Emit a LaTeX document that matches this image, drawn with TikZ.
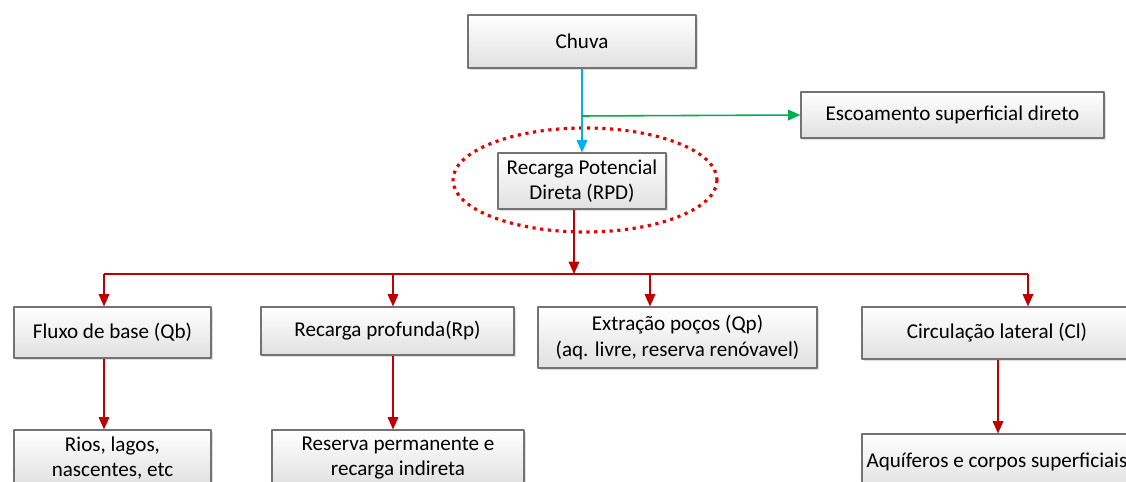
\documentclass[tikz,border=0pt]{standalone}
\usepackage{fontspec}
\setmainfont{Carlito}
\usetikzlibrary{arrows.meta,shadows}
\definecolor{vermelho}{RGB}{192,0,0}
\definecolor{azul}{RGB}{0,176,240}
\definecolor{verde}{RGB}{0,176,80}
\definecolor{elipse}{RGB}{230,0,0}
\begin{document}
\begin{tikzpicture}[line join=round,x=0.02cm,y=-0.02cm,
  >={Triangle[length=7pt,width=6pt]},
  caixa/.style={draw=black!55,line width=0.6pt,top color=white,bottom color=black!12,
    drop shadow={shadow xshift=1.2pt,shadow yshift=-1.2pt,opacity=0.25},
    align=center,inner sep=0pt,font=\fontsize{12}{14.6}\selectfont},
  larg/.style={minimum width=#1*0.02cm},
  alt/.style={minimum height=#1*0.02cm},
  seta/.style={->,line width=0.9pt,draw=vermelho}]
\useasboundingbox (0,0) rectangle (1126,482);
\clip (0,0) rectangle (1126,482);
\node[caixa,larg=228,alt=53] (chuva) at (582,41.5) {Chuva};
\node[caixa,larg=303,alt=46] (escoam) at (952.5,115) {Escoamento superficial direto};
\node[caixa,larg=168,alt=56] (rpd) at (582,181) {Recarga Potencial\\Direta (RPD)};
\draw[elipse,line width=1.8pt,dash pattern=on 1.8pt off 2.6pt] (585,180) ellipse [x radius=132,y radius=52];
\node[caixa,larg=197,alt=51] (fluxo) at (112.5,332.5) {Fluxo de base (Qb)};
\node[caixa,larg=253,alt=48] (recprof) at (387.5,331) {Recarga profunda(Rp)};
\node[caixa,larg=279,alt=61] (extracao) at (677.5,337.5) {Extração poços (Qp)\\(aq. livre, reserva renóvavel)};
\node[caixa,larg=270,alt=52] (circ) at (997,333) {Circulação lateral (Cl)};
\node[caixa,larg=197,alt=56] (rios) at (112.5,458) {Rios, lagos,\\nascentes, etc};
\node[caixa,larg=252,alt=56] (reserva) at (398,458) {Reserva permanente e\\recarga indireta};
\node[caixa,larg=270,alt=56] (aquif) at (997,462) {Aquíferos e corpos superficiais};
\coordinate (jverde) at (582,116);
\coordinate (jverm) at (574,274);
\coordinate (t1) at (104,274);
\coordinate (t2) at (393,274);
\coordinate (t3) at (650,274);
\coordinate (t4) at (1028,274);
\draw[->,line width=0.9pt,azul] (chuva.south) -- (rpd.north);
\draw[->,line width=0.9pt,verde] (jverde) -- (escoam.west);
\draw[seta] (rpd.south -| jverm) -- (jverm);
\draw[line width=0.9pt,vermelho] (t1) -- (t4);
\draw[seta] (t1) -- (t1 |- fluxo.north);
\draw[seta] (t2) -- (t2 |- recprof.north);
\draw[seta] (t3) -- (t3 |- extracao.north);
\draw[seta] (t4) -- (t4 |- circ.north);
\draw[seta] (fluxo.south -| t1) -- (rios.north -| t1);
\draw[seta] (recprof.south -| t2) -- (reserva.north -| t2);
\draw[seta] (circ.south -| 998,0) -- (aquif.north -| 998,0);
\end{tikzpicture}
\end{document}
